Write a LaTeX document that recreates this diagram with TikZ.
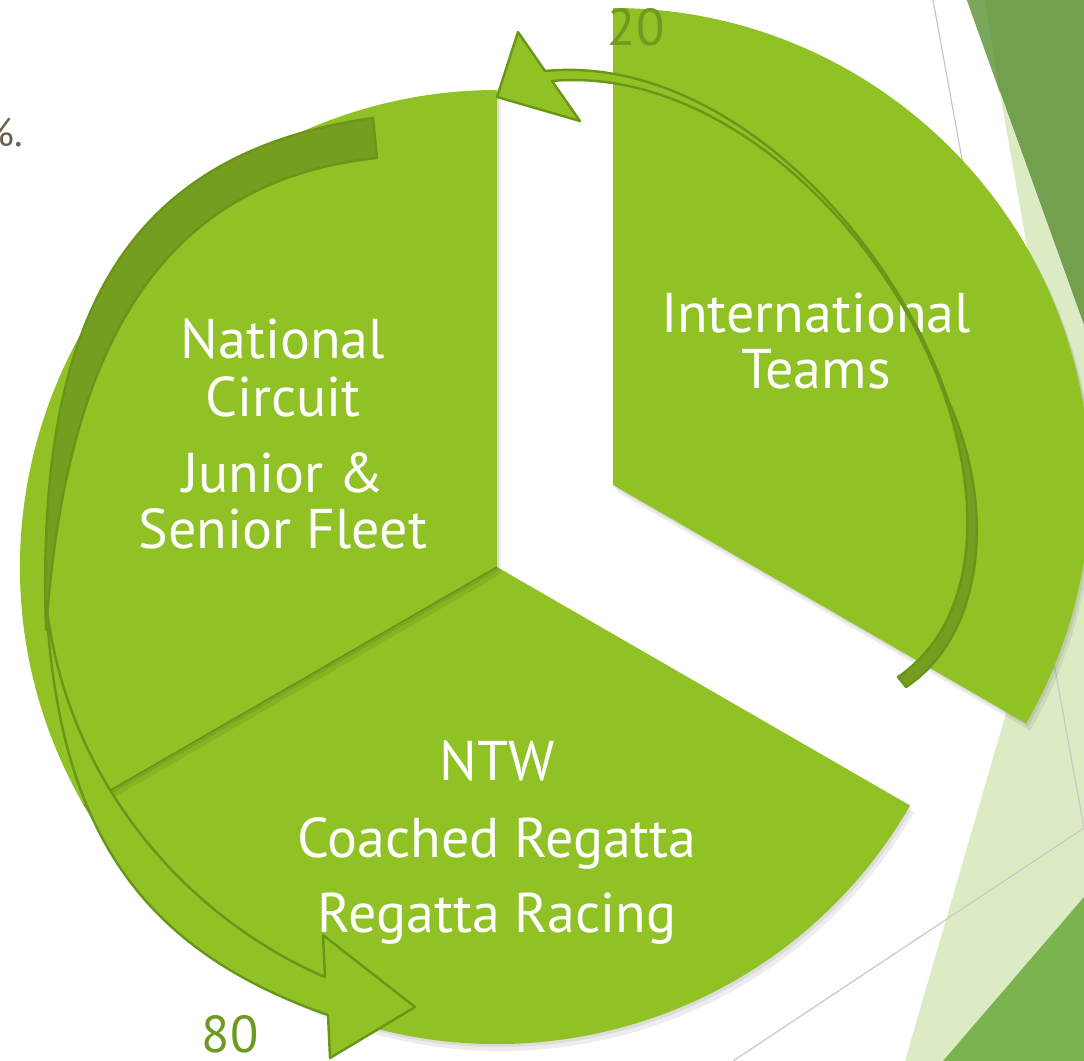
\documentclass[tikz,border=0pt]{standalone}
\usepackage{fontspec}
\setmainfont{PT Sans}
\usepackage{tikz}

\definecolor{piegreen}{HTML}{90C226}
\definecolor{arrowdark}{HTML}{739E1F}
\definecolor{arrowline}{HTML}{6A9519}
\definecolor{numgreen}{HTML}{6E9A22}
\definecolor{facetdark}{HTML}{72A04F}
\definecolor{facetpale}{HTML}{7AA75C}
\definecolor{facetlight}{HTML}{DDEBC5}
\definecolor{facetmid}{HTML}{7BB44E}
\definecolor{rulegrey}{HTML}{C8C8C8}
\definecolor{slidetext}{HTML}{6B6149}

\newcommand{\labelfont}{\fontsize{28}{30}\selectfont}
\newcommand{\numfont}{\fontsize{26}{28}\selectfont}
\newcommand{\leftslice}{(497,567) -- +(150:477) arc[start angle=150, end angle=270, radius=477] -- cycle}
\newcommand{\bottomslice}{(497,567) -- +(30:477) arc[start angle=30, end angle=150, radius=477] -- cycle}
\newcommand{\topslice}{(613,485) -- +(-90:477) arc[start angle=-90, end angle=30, radius=477] -- cycle}

\tikzset{
  seclabel/.style={text=white, font=\labelfont, anchor=base, inner sep=0pt},
  numlabel/.style={text=numgreen, font=\numfont, anchor=base, inner sep=0pt},
  arrowfront/.style={fill=piegreen, draw=arrowline, line width=1.2pt, line join=round},
  arrowback/.style={fill=arrowdark, draw=arrowline, line width=1.2pt, line join=round},
  pieshadow/.style={fill=black, opacity=0.07},
}

\begin{document}
\begin{tikzpicture}[x=0.5pt, y=-0.5pt]
\useasboundingbox (0,0) rectangle (1084,1061);
\fill[white] (0,0) rectangle (1084,1061);
% slide decoration on the right
\fill[facetlight] (1000,93) -- (1084,326) -- (1084,571) -- cycle;
\fill[facetdark] (967,0) -- (1084,0) -- (1084,325) -- cycle;
\fill[facetpale] (967,0) -- (985,0) -- (1000,93) -- cycle;
\fill[facetlight] (905,1061) -- (1084,445) -- (1084,1061) -- cycle;
\fill[facetmid] (943,1061) -- (1084,897) -- (1084,1061) -- cycle;
\draw[rulegrey, line width=0.6pt] (933,0) -- (1084,828) -- (733,1061);
\node (pct) at (23,146) [anchor=base east, inner sep=0pt, text=slidetext, font=\fontsize{20}{22}\selectfont] {\%.};

% the pie
\fill[pieshadow, shift={(2,3)}] \bottomslice;
\fill[pieshadow, shift={(4,7)}] \bottomslice;
\fill[piegreen] \bottomslice;
\fill[pieshadow, shift={(2,3)}] \leftslice;
\fill[pieshadow, shift={(4,7)}] \leftslice;
\fill[piegreen] \leftslice;
\draw[arrowline, line width=0.8pt] (497,567) -- +(150:477);
\fill[pieshadow, shift={(2,3)}] \topslice;
\fill[pieshadow, shift={(4,7)}] \topslice;
\fill[piegreen] \topslice;

\node (nat) at (283,358) [seclabel] {National};
\node (circ) at (283,416) [seclabel] {Circuit};
\node (jun) at (283,492) [seclabel] {Junior \&};
\node (sen) at (283,548) [seclabel] {Senior Fleet};
\node (intl) at (816,332) [seclabel] {International};
\node (teams) at (816,388) [seclabel] {Teams};
\node (ntw) at (497,780) [seclabel] {NTW};
\node (coach) at (497,857) [seclabel] {Coached Regatta};
\node (race) at (497,932) [seclabel] {Regatta Racing};

% 80 arrow
\filldraw[arrowback] (373,118) .. controls (116,154) and (36,330) .. (46,630)
  .. controls (66,350) and (158,181) .. (377,158) -- cycle;
\filldraw[arrowfront] (46,600) .. controls (64,780) and (187,918) .. (325,977)
  -- (323,935) -- (415,1007) -- (330,1058) -- (328,1015)
  .. controls (140,949) and (58,830) .. (46,600) -- cycle;

% 20 arrow
\filldraw[arrowfront] (552,81) -- (580,121) -- (497,97) -- (518,32) -- (545,71)
  .. controls (720,54) and (891,230) .. (948,400) -- (946,400)
  .. controls (889,230) and (720,66) .. (552,81) -- cycle;
\filldraw[arrowback] (948,400) .. controls (997,508) and (984,636) .. (906,687)
  -- (898,677) .. controls (975,624) and (983,512) .. (946,400) -- cycle;

\node (twenty) at (636,45) [numlabel] {20};
\node (eighty) at (230,1052) [numlabel] {80};
\end{tikzpicture}
\end{document}
